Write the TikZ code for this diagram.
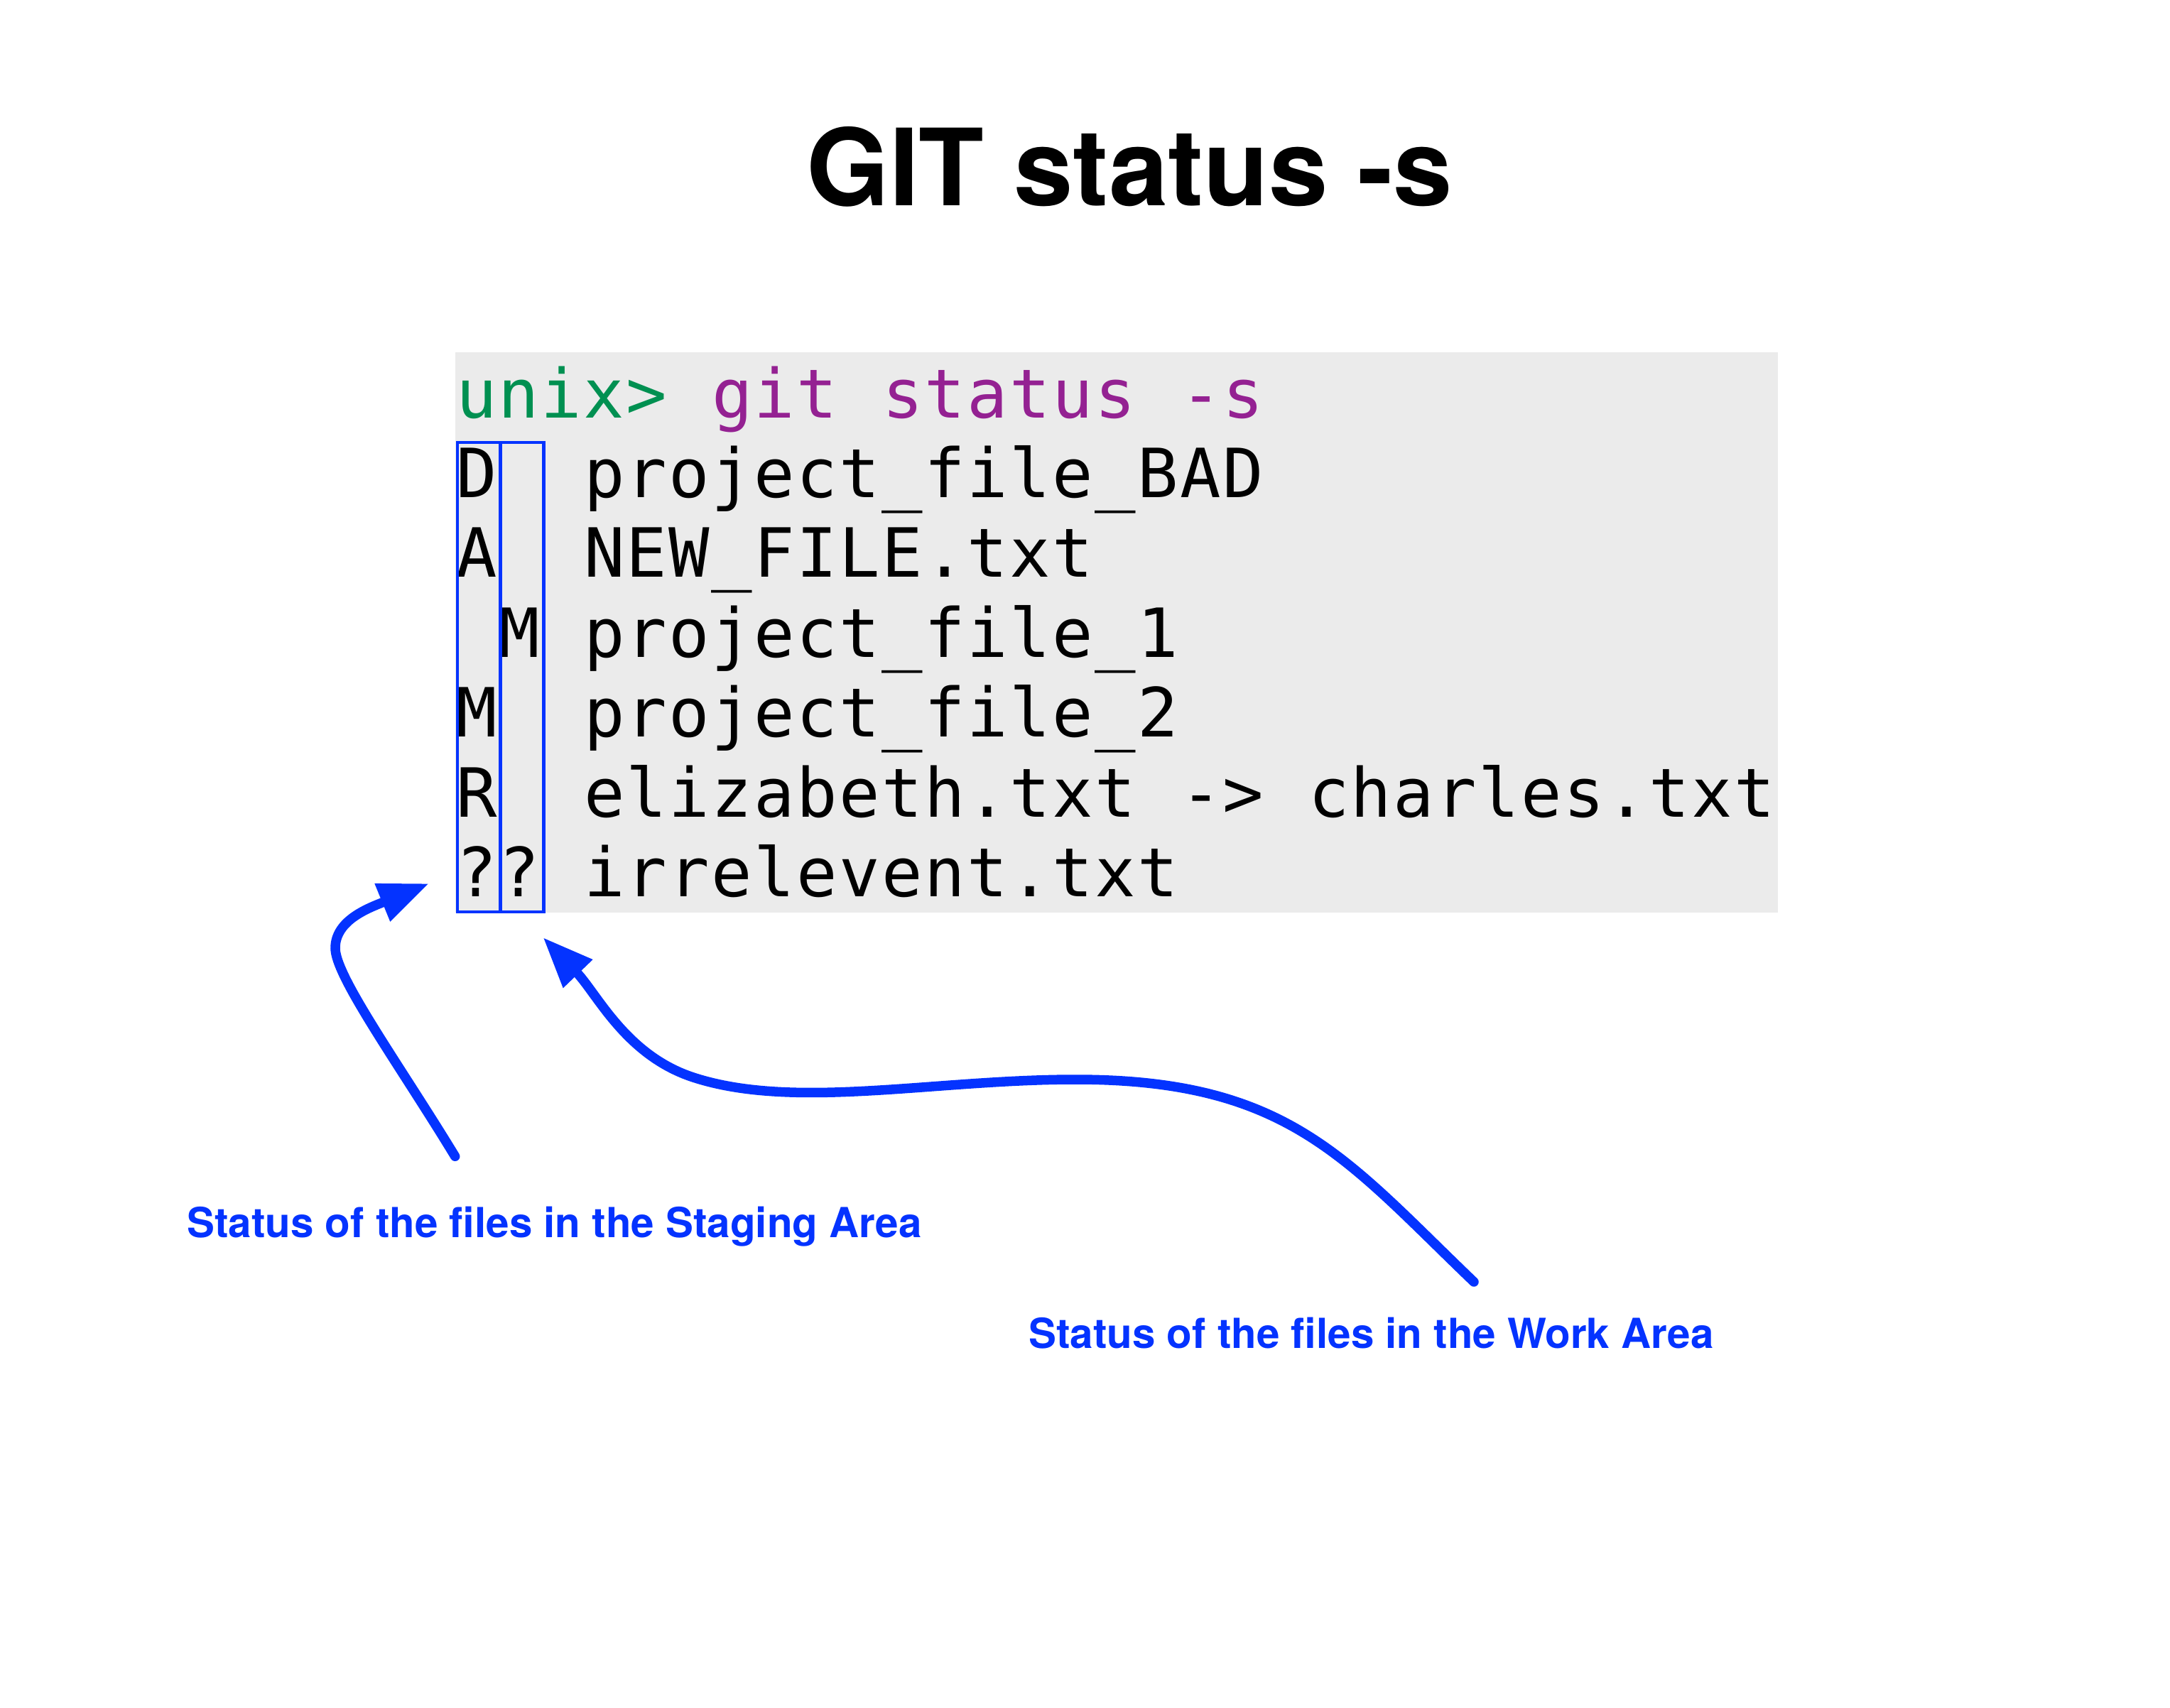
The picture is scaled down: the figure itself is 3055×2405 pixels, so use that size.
\documentclass[tikz,border=0pt]{standalone}
\usepackage{fontspec}
\usetikzlibrary{arrows.meta}
\setmainfont{TeX Gyre Heros}
\newfontfamily\heros{TeX Gyre Heros}
\newfontfamily\monof[LetterSpace=2.62]{DejaVu Sans Mono}
\definecolor{gitblue}{HTML}{0433FF}
\definecolor{boxgray}{HTML}{EBEBEB}
\definecolor{promptgreen}{HTML}{009051}
\definecolor{cmdpurple}{HTML}{942192}
\begin{document}
\begin{tikzpicture}[x=1pt,y=-1pt,
  mono/.style={inner sep=0pt, outer sep=0pt, anchor=base west, font=\monof\fontsize{95.5}{112}\selectfont},
  colbox/.style={draw=gitblue, line width=4.3pt, inner sep=0pt, anchor=north west, minimum height=661.5pt},
  label/.style={inner sep=0pt, anchor=base west, text=gitblue, font=\heros\bfseries\fontsize{58.3}{70}\selectfont},
  arr/.style={draw=gitblue, line width=13.5pt, line cap=round, -{Triangle[length=71pt,width=54pt]}}]
\path[use as bounding box] (0,0) rectangle (3055,2405);
% title
\node[inner sep=0pt, anchor=base, font=\heros\bfseries\fontsize{150}{170}\selectfont] (title) at (1590,290) {GIT status -s};
% terminal background
\node[fill=boxgray, inner sep=0pt, anchor=north west, minimum width=1862pt, minimum height=789pt] (term) at (641,496) {};
% prompt line
\node[mono, text=promptgreen] (prompt) at (642,588.3) {unix>};
\node[mono, text=cmdpurple] (cmd1) at (1002,588.3) {git};
\node[mono, text=cmdpurple] (cmd2) at (1242,588.3) {status};
\node[mono, text=cmdpurple] (cmd3) at (1662,588.3) {-s};
% rows
\node[mono] (s1) at (642,700) {D};
\node[mono] (f1) at (822,700) {project\_file\_BAD};
\node[mono] (s2) at (642,812.5) {A};
\node[mono] (f2) at (822,812.5) {NEW\_FILE.txt};
\node[mono] (w3) at (702,925) {M};
\node[mono] (f3) at (822,925) {project\_file\_1};
\node[mono] (s4) at (642,1037.5) {M};
\node[mono] (f4) at (822,1037.5) {project\_file\_2};
\node[mono] (s5) at (642,1150) {R};
\node[mono] (f5a) at (822,1150) {elizabeth.txt};
\node[mono] (f5b) at (1662,1150) {->};
\node[mono] (f5c) at (1842,1150) {charles.txt};
\node[mono] (s6) at (642,1262.5) {?};
\node[mono] (w6) at (702,1262.5) {?};
\node[mono] (f6) at (822,1262.5) {irrelevent.txt};
% column boxes
\node[colbox, minimum width=60.7pt] (stagecol) at (641.5,620.5) {};
\node[colbox, minimum width=61pt] (workcol) at (702.2,620.5) {};
% labels
\node[label] (stagelbl) at (263,1742) {Status of the files in the Staging Area};
\node[label] (worklbl) at (1448,1898) {Status of the files in the Work Area};
% arrows
\coordinate (a1s) at (640.7,1628.3);
\coordinate (a1m) at (472,1335);
\coordinate (a1t) at (604,1244);
\coordinate (a2s) at (2075,1805);
\coordinate (a2m) at (1514,1520);
\coordinate (a2n) at (976,1517);
\coordinate (a2t) at (764.5,1320);
\draw[arr] (a1s) .. controls (562.7,1500) and (472,1375) .. (a1m)
  .. controls (472,1295) and (520.7,1278) .. (a1t);
\draw[arr] (a2s) .. controls (1894.5,1632) and (1814,1520) .. (a2m)
  .. controls (1314,1520) and (1118.5,1563.5) .. (a2n)
  .. controls (881,1486) and (840.7,1399.3) .. (a2t);
\end{tikzpicture}
\end{document}
